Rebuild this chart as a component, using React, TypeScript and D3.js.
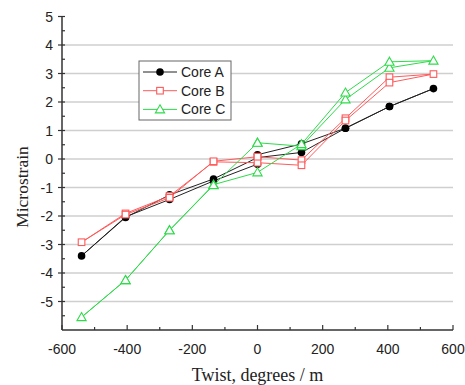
import React from "react";
import * as d3 from "d3";

const twist = [0, 135, 270, 405, 540, 405, 270, 135, 0, -135, -270, -405, -540, -405, -270, -135, 0];
const coreA = [0.15, 0.53, 1.08, 1.84, 2.47, 1.84, 1.08, 0.23, 0.05, -0.7, -1.26, -2.05, -3.4, -2.03, -1.42, -0.77, -0.18];
const coreB = [0.08, -0.04, 1.43, 2.87, 2.98, 2.68, 1.35, -0.22, -0.13, -0.1, -1.3, -1.91, -2.92, -1.95, -1.36, -0.08, 0.08];
const coreC = [0.57, 0.45, 2.09, 3.2, 3.45, 3.41, 2.33, 0.52, -0.47, -0.9, -2.5, -4.25, -5.55, -4.25, -2.5, -0.92, 0.57];
const seriesNames = ["Core A", "Core B", "Core C"];
const xTicks = [-600, -400, -200, 0, 200, 400, 600];
const yTicks = [-5, -4, -3, -2, -1, 0, 1, 2, 3, 4, 5];

const colors = ["#222222", "#ff5a5a", "#2edb4a"];
const marks = ["circle", "square", "triangle"];

export default function App() {
  const W = 465, H = 385;
  const x = d3.scaleLinear().domain([-600, 600]).range([62, 453]);
  const y = d3.scaleLinear().domain([-6, 5]).range([330, 16.5]);
  const data = [coreA, coreB, coreC];
  const line = d3.line<[number, number]>().x(d => x(d[0])).y(d => y(d[1]));
  const sans = "'Liberation Sans', Arial, sans-serif";
  const serif = "'Liberation Serif', 'Times New Roman', serif";

  const marker = (kind: string, cx: number, cy: number, color: string, key: any) => {
    if (kind === "circle") return <circle key={key} cx={cx} cy={cy} r={3.8} fill="#000" />;
    if (kind === "square") return <rect key={key} x={cx - 3.3} y={cy - 3.3} width={6.6} height={6.6} fill="white" stroke={color} strokeWidth={1.1} />;
    const s = 4.6;
    return <path key={key} d={`M${cx},${cy - s}L${cx + s},${cy + s * 0.75}L${cx - s},${cy + s * 0.75}Z`} fill="white" stroke={color} strokeWidth={1.1} />;
  };

  const minorX = d3.range(-500, 600, 200);
  const minorY = d3.range(-5.5, 5, 1);

  return (
    <svg width={W} height={H} style={{ position: "absolute", left: 0, top: 0, background: "white" }}>
      {yTicks.filter(t => t < 5).map(t => (
        <line key={"g" + t} x1={x(-600)} x2={x(600)} y1={y(t)} y2={y(t)} stroke="#cfcfcf" strokeWidth={1.5} />
      ))}
      <line x1={x(-600)} x2={x(-600)} y1={y(5)} y2={y(-6)} stroke="#333" strokeWidth={1.5} />
      <line x1={x(-600)} x2={x(600)} y1={y(-6)} y2={y(-6)} stroke="#333" strokeWidth={1.5} />
      {yTicks.map(t => (
        <g key={"yt" + t}>
          <line x1={x(-600) - 4} x2={x(-600) + 3} y1={y(t)} y2={y(t)} stroke="#333" strokeWidth={1.2} />
          <text x={53} y={y(t)} dy="0.36em" textAnchor="end" fontFamily={sans} fontSize={14} fill="#222">{t}</text>
        </g>
      ))}
      {minorY.map(t => (
        <line key={"ym" + t} x1={x(-600)} x2={x(-600) + 3} y1={y(t)} y2={y(t)} stroke="#333" strokeWidth={1.2} />
      ))}
      {xTicks.map(t => (
        <g key={"xt" + t}>
          <line x1={x(t)} x2={x(t)} y1={y(-6)} y2={y(-6) - 5} stroke="#333" strokeWidth={1.2} />
          <text x={x(t)} y={354} textAnchor="middle" fontFamily={sans} fontSize={14} fill="#222">{t}</text>
        </g>
      ))}
      {minorX.map(t => (
        <line key={"xm" + t} x1={x(t)} x2={x(t)} y1={y(-6)} y2={y(-6) - 3} stroke="#333" strokeWidth={1.2} />
      ))}
      {data.map((vals, si) => {
        const pts: [number, number][] = twist.map((t, i) => [t, vals[i]]);
        return (
          <g key={"s" + si}>
            <path d={line(pts) || ""} fill="none" stroke={colors[si]} strokeWidth={1} />
            {pts.map((p, i) => marker(marks[si], x(p[0]), y(p[1]), colors[si], i))}
          </g>
        );
      })}
      <rect x={139} y={61} width={92} height={59} fill="white" stroke="#666" strokeWidth={1} />
      {seriesNames.map((n, i) => {
        const ly = 72 + i * 18.7;
        return (
          <g key={"l" + i}>
            <line x1={143} x2={177} y1={ly} y2={ly} stroke={colors[i]} strokeWidth={1} />
            {marker(marks[i], 160, ly, colors[i], "m" + i)}
            <text x={181} y={ly} dy="0.36em" fontFamily={sans} fontSize={14} fill="#222">{n}</text>
          </g>
        );
      })}
      <text transform={`translate(28,187) rotate(-90)`} textAnchor="middle" fontFamily={serif} fontSize={17.5} fill="#222">Microstrain</text>
      <text x={x(0)} y={381} textAnchor="middle" fontFamily={serif} fontSize={18} fill="#222">Twist, degrees / m</text>
    </svg>
  );
}
